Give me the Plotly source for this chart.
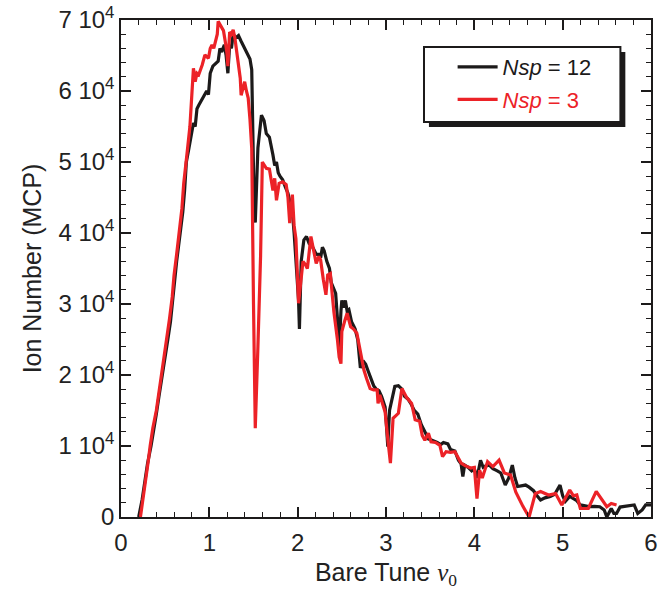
import plotly.graph_objects as go

# Nsp = 12 (black)
x_nsp12 = [0.20, 0.24, 0.27, 0.30, 0.34, 0.37, 0.40, 0.43, 0.47, 0.50, 0.53, 0.56, 0.58, 0.60, 0.63,
           0.67, 0.70, 0.72, 0.74, 0.77, 0.80, 0.82, 0.84, 0.86, 0.88, 0.92, 0.95, 0.97, 0.99, 1.01,
           1.04, 1.08, 1.10, 1.12, 1.14, 1.17, 1.19, 1.21, 1.23, 1.25, 1.27, 1.30, 1.33, 1.36, 1.40,
           1.43, 1.46, 1.48, 1.51, 1.52, 1.55, 1.59, 1.62, 1.645, 1.68, 1.72, 1.74, 1.76, 1.78, 1.80,
           1.83, 1.86, 1.89, 1.92, 1.94, 1.96, 1.99, 2.01, 2.02, 2.04, 2.07, 2.10, 2.13, 2.17, 2.19,
           2.21, 2.24, 2.26, 2.28, 2.30, 2.33, 2.36, 2.38, 2.41, 2.43, 2.45, 2.47, 2.49, 2.50, 2.52,
           2.54, 2.56, 2.58, 2.61, 2.65, 2.68, 2.71, 2.74, 2.77, 2.80, 2.83, 2.86, 2.89, 2.92, 2.95,
           2.99, 3.01, 3.02, 3.04, 3.07, 3.10, 3.14, 3.18, 3.21, 3.25, 3.28, 3.32, 3.36, 3.40, 3.44,
           3.48, 3.52, 3.55, 3.58, 3.62, 3.65, 3.70, 3.73, 3.78, 3.82, 3.85, 3.87, 3.89, 3.93, 3.97,
           4.00, 4.03, 4.07, 4.10, 4.13, 4.17, 4.21, 4.26, 4.30, 4.35, 4.39, 4.43, 4.46, 4.49, 4.54,
           4.58, 4.62, 4.67, 4.71, 4.75, 4.80, 4.86, 4.91, 4.97, 5.00, 5.03, 5.08, 5.12, 5.16, 5.20,
           5.26, 5.31, 5.36, 5.42, 5.47, 5.50, 5.55, 5.58, 5.61, 5.65, 5.70, 5.76, 5.81, 5.85, 5.90,
           5.94, 6.00]
y_nsp12 = [0, 2500, 5000, 7500, 10000, 12000, 14500, 17000, 20000, 22500, 25000, 27500, 30000, 33000, 36000,
           40000, 43000, 46000, 50000, 52000, 54500, 55500, 55000, 57500, 58000, 59000, 59500, 60000, 59500, 62500,
           63500, 64000, 64200, 66000, 65500, 66500, 65000, 62500, 66500, 66000, 68000, 67500, 67800, 67000, 66000,
           65000, 64500, 63000, 42000, 41500, 52000, 56600, 55800, 54000, 53500, 51000, 49500, 50000, 48500, 48000,
           47500, 46500, 45600, 44000, 43000, 40000, 34000, 30500, 26500, 36000, 39000, 39500, 38500, 38000, 37500,
           37000, 37000, 36500, 38000, 37500, 36000, 35000, 33000, 32000, 31500, 28000, 23500, 29000, 30500, 29500,
           30500, 29000, 29200, 27500, 26500, 25000, 21000, 22000, 21500, 20500, 19500, 18500, 18000, 17800, 17000,
           15500, 12000, 9900, 15000, 16500, 18400, 18500, 18000, 17000, 16600, 16000, 15000, 14500, 13000, 12000,
           11000, 10800, 10700, 10500, 10200, 10500, 10300, 9500, 9300, 8000, 7500, 5700, 7300, 7000, 6500,
           6800, 5500, 8000, 7000, 7200, 7300, 6800, 6500, 6200, 4500, 5500, 7300, 5500, 4300, 4400,
           4500, 4200, 3700, 3000, 2400, 2700, 2900, 3200, 4500, 3000, 2200, 2900, 2600, 2300, 1700,
           1500, 1450, 1500, 1450, 1000, 0, 1200, 500, 500, 1400, 1500, 1600, 1700, 500, 1000,
           1700, 1700]

# Nsp = 3 (red)
x_nsp3 = [0.22, 0.25, 0.28, 0.31, 0.33, 0.36, 0.40, 0.43, 0.46, 0.49, 0.52, 0.55, 0.58, 0.60, 0.63,
          0.66, 0.69, 0.71, 0.73, 0.75, 0.78, 0.80, 0.82, 0.84, 0.86, 0.88, 0.90, 0.92, 0.95, 0.97,
          0.99, 1.01, 1.03, 1.05, 1.07, 1.09, 1.10, 1.12, 1.14, 1.16, 1.18, 1.20, 1.21, 1.23, 1.25,
          1.27, 1.29, 1.32, 1.35, 1.36, 1.38, 1.40, 1.42, 1.44, 1.46, 1.48, 1.50, 1.52, 1.55, 1.58,
          1.60, 1.62, 1.645, 1.68, 1.72, 1.74, 1.76, 1.79, 1.83, 1.87, 1.89, 1.91, 1.94, 1.96, 1.98,
          2.01, 2.04, 2.06, 2.09, 2.11, 2.15, 2.18, 2.21, 2.24, 2.26, 2.29, 2.32, 2.34, 2.37, 2.39,
          2.41, 2.45, 2.47, 2.49, 2.50, 2.53, 2.56, 2.60, 2.63, 2.67, 2.71, 2.75, 2.78, 2.82, 2.86,
          2.90, 2.91, 2.93, 2.96, 2.99, 3.02, 3.05, 3.08, 3.11, 3.14, 3.18, 3.23, 3.29, 3.33, 3.38,
          3.41, 3.44, 3.48, 3.51, 3.56, 3.61, 3.64, 3.68, 3.73, 3.78, 3.82, 3.85, 3.90, 3.96, 4.00,
          4.03, 4.06, 4.09, 4.15, 4.21, 4.28, 4.34, 4.41, 4.47, 4.55, 4.62, 4.69, 4.75, 4.84, 4.92,
          4.99, 5.08, 5.12, 5.16, 5.20, 5.29, 5.38, 5.44, 5.50, 5.55, 5.61]
y_nsp3 = [0, 2500, 5000, 8000, 10000, 12500, 15000, 17500, 20000, 22500, 25000, 28000, 31000, 34000, 37000,
          40000, 43500, 47000, 49000, 51500, 55000, 59400, 63200, 61300, 62500, 62300, 63000, 63700, 65100, 64800,
          64600, 66000, 66500, 66000, 67200, 68000, 69800, 69300, 68800, 68500, 67000, 65300, 63500, 68300, 68000,
          68600, 67400, 64500, 61800, 59400, 60500, 61300, 60000, 59000, 56000, 51900, 30000, 12500, 24000, 36700,
          50000, 49500, 49100, 49000, 46000, 47700, 44600, 47000, 47200, 46800, 45000, 41400, 45400, 41000, 39200,
          30100, 34000, 36000, 35500, 35000, 39500, 37500, 35700, 36700, 36200, 33500, 31300, 34100, 34300, 31500,
          28900, 25000, 22500, 21600, 26100, 27500, 28700, 26800, 26500, 25900, 23500, 20700, 19500, 18100, 17900,
          17900, 16000, 17200, 16000, 14800, 11000, 7600, 13900, 14200, 14600, 18100, 16900, 16000, 13700, 13500,
          11500, 10800, 11800, 10600, 10500, 10100, 8500, 9200, 9100, 9200, 8300, 7600, 7200, 6900, 7000,
          2600, 6600, 5500, 7800, 7100, 8000, 6200, 5900, 3500, 1500, 0, 3300, 3600, 3100, 3300,
          1700, 3800, 3000, 3100, 1200, 1200, 3600, 2500, 1450, 1900, 1700]

y_tick_vals = [0, 10000, 20000, 30000, 40000, 50000, 60000, 70000]
y_tick_text = ["0", "1 10<sup>4</sup>", "2 10<sup>4</sup>", "3 10<sup>4</sup>", "4 10<sup>4</sup>",
               "5 10<sup>4</sup>", "6 10<sup>4</sup>", "7 10<sup>4</sup>"]
x_tick_vals = [0, 1, 2, 3, 4, 5, 6]

BLACK = "#1c1a1a"
RED = "#ec2227"
FONT = "Liberation Sans, Arial, Helvetica, sans-serif"

fig = go.Figure()
fig.add_trace(go.Scatter(x=x_nsp12, y=y_nsp12, mode="lines", line=dict(color=BLACK, width=3.2),
                         name='<i>Nsp</i> = 12', legendgroup="a"))
fig.add_trace(go.Scatter(x=x_nsp3, y=y_nsp3, mode="lines", line=dict(color=RED, width=3.2),
                         name=f'<span style="color:{RED}"><i>Nsp</i> = 3</span>', legendgroup="b"))

W, H = 658, 591
ml, mr, mt, mb = 121, 0, 20, 74
pw, ph = W - ml - mr, H - mt - mb

def px_x(p):
    return (p - ml) / pw

def px_y(p):
    return (H - mb - p) / ph

# legend box + shadow (decoration)
bx0, by0, bx1, by1 = 428, 47, 627, 122
shadow = 5
fig.add_shape(type="rect", xref="paper", yref="paper",
              x0=px_x(bx0 + shadow), x1=px_x(bx1 + shadow), y0=px_y(by1 + shadow), y1=px_y(by0 + shadow),
              fillcolor=BLACK, line=dict(color=BLACK, width=0), layer="above")
fig.add_shape(type="rect", xref="paper", yref="paper",
              x0=px_x(bx0), x1=px_x(bx1), y0=px_y(by1), y1=px_y(by0),
              fillcolor="white", line=dict(color=BLACK, width=2), layer="above")

axis_common = dict(
    showline=True, linecolor=BLACK, linewidth=1.5, mirror="ticks",
    ticks="inside", ticklen=10, tickwidth=1.5, tickcolor=BLACK,
    showgrid=False, zeroline=False,
    tickfont=dict(family=FONT, size=24, color="#222"),
)

fig.update_xaxes(range=[0, 6], tickvals=x_tick_vals, ticklabeloverflow="allow", ticklabelstandoff=3,
                 minor=dict(dtick=0.2, ticks="inside", ticklen=5, tickwidth=1.2, tickcolor=BLACK),
                 title=dict(text='Bare Tune <span style="font-family:Liberation Serif, Times New Roman, serif"><i>ν</i><sub>0</sub></span>',
                            font=dict(family=FONT, size=25, color="#222"), standoff=9),
                 **axis_common)
fig.update_yaxes(range=[0, 70000], tickvals=y_tick_vals, ticktext=y_tick_text,
                 minor=dict(dtick=2000, ticks="inside", ticklen=5, tickwidth=1.2, tickcolor=BLACK),
                 title=dict(text="Ion Number (MCP)", font=dict(family=FONT, size=25, color="#222"), standoff=10),
                 **axis_common)

fig.update_layout(
    width=W, height=H,
    margin=dict(l=ml, r=mr, t=mt, b=mb),
    plot_bgcolor="white", paper_bgcolor="white",
    font=dict(family=FONT, size=24, color="#222"),
    legend=dict(x=px_x(457), y=px_y(46), xanchor="left", yanchor="top",
                bgcolor="rgba(0,0,0,0)", borderwidth=0,
                font=dict(family=FONT, size=22, color=BLACK),
                tracegroupgap=1, itemwidth=40),
    showlegend=True,
)

fig.write_html("out.html")
